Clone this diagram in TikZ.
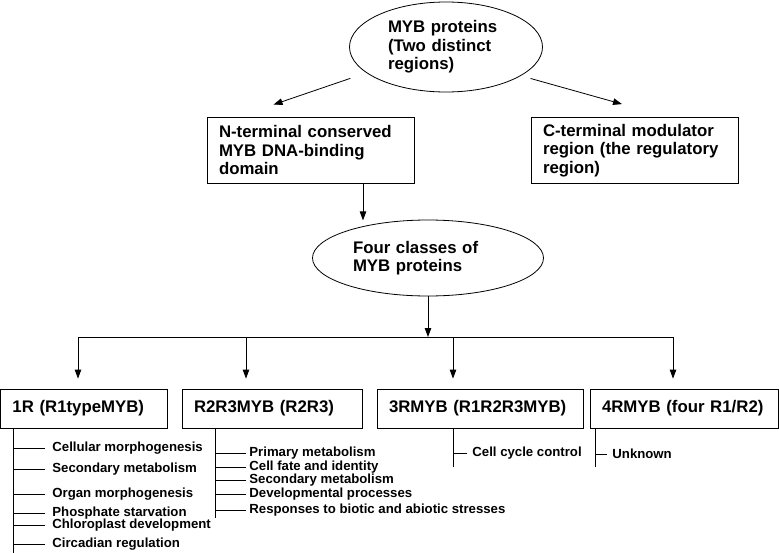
\documentclass[tikz,border=0pt]{standalone}
\usepackage{fontspec}
\setmainfont{Liberation Sans}
\usetikzlibrary{shapes.geometric,arrows.meta}

\begin{document}
\begin{tikzpicture}[x=1pt,y=-1pt,line width=0.8pt,
  big/.style={font=\fontsize{16.8}{18.6}\selectfont\bfseries},
  oval/.style={ellipse,draw,big,align=left,inner sep=0pt},
  box/.style={rectangle,draw,big,align=left,inner xsep=12pt,inner ysep=0pt},
  item/.style={anchor=west,inner sep=0pt,font=\fontsize{13.2}{13.5}\selectfont\bfseries},
  arr/.style={-{Triangle[length=9pt,width=6.5pt]}}]
\useasboundingbox (0,0) rectangle (779,552);
\node[oval,minimum width=193pt,minimum height=90pt,text width=116pt] at (446,47) (myb) {MYB proteins\\(Two distinct\\regions)};
\node[box,text width=183pt,minimum height=66pt] at (310.5,150) (N) {N-terminal conserved\\MYB DNA-binding\\domain};
\node[box,text width=183pt,minimum height=66pt] at (634.5,150.5) (C) {C-terminal modulator\\region (the regulatory\\region)};
\node[oval,minimum width=231pt,minimum height=76pt,text width=150pt] at (428,258) (four) {Four classes of\\MYB proteins};
\node[box,text width=143pt,minimum height=39pt] at (84,408.5) (c1) {1R (R1typeMYB)};
\node[box,text width=156pt,minimum height=39pt] at (272,408.5) (c2) {R2R3MYB (R2R3)};
\node[box,text width=182pt,minimum height=39pt] at (480,408.5) (c3) {3RMYB (R1R2R3MYB)};
\node[box,text width=164pt,minimum height=39pt] at (684,408.5) (c4) {4RMYB (four R1/R2)};
\draw[arr,shorten <=17pt] (myb.198) -- ([xshift=-37pt,yshift=12pt]N.north);
\draw[arr,shorten <=10pt] (myb.339) -- ([xshift=-12.5pt,yshift=13pt]C.north);
\draw[arr] ([xshift=52.5pt]N.south) -- ++(0,-37pt);
\foreach \x [count=\i] in {78,246,453,673}
  \coordinate (j\i) at (\x,337);
\draw[arr] (four.south) -- (four.south |- j1);
\draw (j1) -- (j4);
\foreach \i in {1,...,4}
  \draw[arr,shorten >=10pt] (j\i) -- (j\i |- c\i.north);
% 1R functions
\draw ([xshift=13pt]c1.south west) -- ++(0,-126pt);
\foreach \y/\t [count=\i] in {448/Cellular morphogenesis,469/Secondary metabolism,
  494/Organ morphogenesis,513/Phosphate starvation,525/Chloroplast development,
  544/Circadian regulation} {
  \node[item] at (52,\y) (a\i) {\t};
  \draw ([xshift=-7pt]a\i.west) -- ++(-32pt,0);
}
% R2R3 functions
\draw ([xshift=34pt]c2.south west) -- ++(0,-90pt);
\foreach \y/\t [count=\i] in {453/Primary metabolism,467/Cell fate and identity,
  480/Secondary metabolism,494/Developmental processes,510/Responses to biotic and abiotic stresses} {
  \node[item] at (249,\y) (b\i) {\t};
  \draw ([xshift=-3pt]b\i.west) -- ++(-30pt,0);
}
% 3R and 4R
\draw ([xshift=77pt]c3.south west) -- ++(0,-39pt);
\node[item] at (472,453) (d1) {Cell cycle control};
\draw ([xshift=-5pt]d1.west) -- ++(-13pt,0);
\draw ([xshift=6pt]c4.south west) -- ++(0,-39pt);
\node[item] at (612,454) (e1) {Unknown};
\draw ([xshift=-5pt]e1.west) -- ++(-11pt,0);
\end{tikzpicture}
\end{document}
